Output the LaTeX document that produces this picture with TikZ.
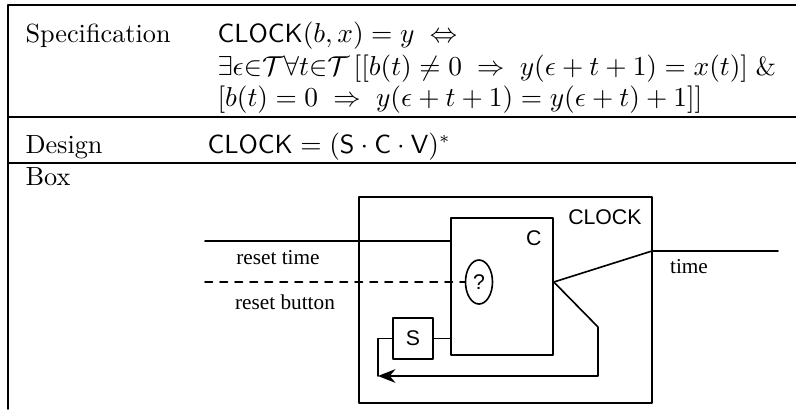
\documentclass[tikz,border=0pt]{standalone}
\usepackage{amsmath,amssymb}
\usepackage{fontspec}
\newfontfamily\wireserif{Liberation Serif}
\newfontfamily\wiresans{Liberation Sans}
\usetikzlibrary{arrows.meta,shapes.geometric}
\tikzset{
  every picture/.style={font=\fontsize{10.5}{12.6}\selectfont, line join=round, line cap=round, >={Stealth[length=7pt,width=5.5pt]}},
  rule/.style={line width=0.7pt},
  wire/.style={line width=0.65pt},
  cell/.style={anchor=base west, inner sep=0pt},
  sigtext/.style={font=\fontsize{8.5}{10}\wireserif, inner sep=0pt},
  blocktext/.style={font=\fontsize{8.5}{10}\wiresans, inner sep=0pt},
  block/.style={draw, wire, inner sep=0pt},
}

\begin{document}
\begin{tikzpicture}[x=0.4pt,y=-0.4pt]
\useasboundingbox (0,0) rectangle (796,409);
% table rules
\draw[rule] (8,5)--(796,5);
\draw[rule] (8,117)--(796,117);
\draw[rule] (8,163)--(796,163);
\draw[rule] (8,5)--(8,409);
% rows
\node[cell] (spec) at (25,42) {Specification};
\node[cell] (specA) at (217,42) {$\mathsf{CLOCK}(b,x) = y \;\Leftrightarrow$};
\node[cell] (specB) at (217,75) {$\exists\epsilon{\in}\mathcal{T}\forall t{\in}\mathcal{T}\,[[b(t)\neq 0 \;\Rightarrow\; y(\epsilon+t+1)=x(t)]\;\&$};
\node[cell] (specC) at (217,106) {$[b(t)=0 \;\Rightarrow\; y(\epsilon+t+1)=y(\epsilon+t)+1]]$};
\node[cell] (design) at (25,153) {Design};
\node[cell] (designA) at (207,153) {$\mathsf{CLOCK} = (\mathsf{S}\cdot\mathsf{C}\cdot\mathsf{V})^*$};
\node[cell] (box) at (25,185) {Box};
% blocks
\node[block, minimum width=117.2pt, minimum height=82.4pt] (clock) at (505.5,300) {};
\node[block, minimum width=40.8pt, minimum height=54.8pt] (cbox) at (502,286.5) {};
\node[block, minimum width=16pt, minimum height=16.4pt, blocktext] (sbox) at (413,338.5) {S};
\node[block, ellipse, minimum width=10.8pt, minimum height=17.6pt, blocktext] (query) at (479,282) {?};
\node[blocktext, anchor=north east] (clocklbl) at (642,209) {CLOCK};
\node[blocktext, anchor=north east] (clbl) at (542,230) {C};
% signals
\coordinate (rt) at (205,241);
\coordinate (rb) at (205,282);
\coordinate (tap) at (cbox.east |- query);
\coordinate (exit) at (652,251);
\coordinate (timeend) at (778,251);
\coordinate (fb1) at (598,327);
\coordinate (fb2) at (598,376);
\coordinate (loopend) at (378,376);
\draw[wire] (rt) -- (rt -| cbox.west);
\draw[wire, dashed] (rb) -- (query.west);
\draw[wire] (sbox.east) -- (sbox.east -| cbox.west);
\draw[wire] (tap) -- (exit) -- (timeend);
\draw[wire, ->] (tap) -- (fb1) -- (fb2) -- (loopend);
\draw[wire] (sbox.west) -| (loopend);
\node[sigtext] (rtlbl) at (278,258) {reset time};
\node[sigtext] (rblbl) at (285,302) {reset button};
\node[sigtext] (timelbl) at (689,267) {time};
\end{tikzpicture}
\end{document}
